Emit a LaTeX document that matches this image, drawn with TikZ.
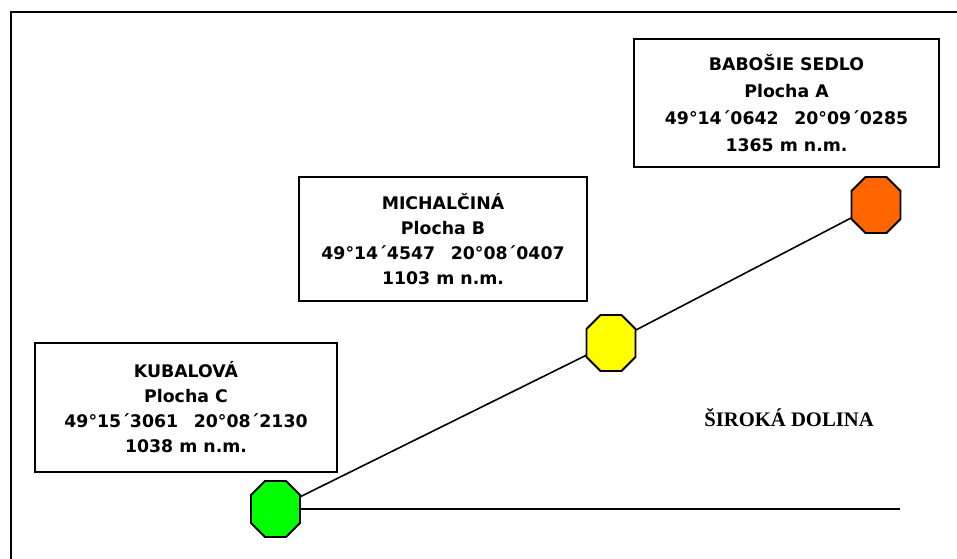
\documentclass[tikz,border=0pt]{standalone}
\usepackage{fontspec}
\setmainfont{DejaVu Sans}
\newfontfamily\timesfont{Liberation Serif}
\definecolor{octgreen}{HTML}{00FF00}
\definecolor{octyellow}{HTML}{FFFF00}
\definecolor{octorange}{HTML}{FF6600}
\begin{document}
\begin{tikzpicture}[x=0.75pt,y=-0.75pt,
  frame/.style={line width=1.6pt},
  infobox/.style={draw, line width=1.4pt, inner sep=0pt, align=center},
  boxfontA/.style={font=\bfseries\fontsize{13}{20.2}\selectfont},
  boxfontB/.style={font=\bfseries\fontsize{13}{18.75}\selectfont},
  link/.style={line width=1.2pt},
  octo/.style={draw, line width=1.4pt},
  pics/octagon/.style={code={\filldraw[octo, fill=#1] (-24.5,-14) -- (-24.5,14) -- (-10.5,28) -- (10.5,28) -- (24.5,14) -- (24.5,-14) -- (10.5,-28) -- (-10.5,-28) -- cycle;}}]
\useasboundingbox (0,0) rectangle (957,559);
\clip (0,0) rectangle (957,559);
\draw[frame] (11,12) rectangle (1000,620);

\node[infobox, boxfontA, minimum width=228.75pt, minimum height=96pt] (A) at (786.5,103)
  {BABOŠIE SEDLO\\Plocha A\\49°14´0642\hspace{0.9em}20°09´0285\\1365 m n.m.};
\node[infobox, boxfontB, minimum width=216pt, minimum height=93pt] (B) at (443,239)
  {MICHALČINÁ\\Plocha B\\49°14´4547\hspace{0.9em}20°08´0407\\1103 m n.m.};
\node[infobox, boxfontB, minimum width=226.5pt, minimum height=96.75pt] (C) at (186,407.5)
  {KUBALOVÁ\\Plocha C\\49°15´3061\hspace{0.9em}20°08´2130\\1038 m n.m.};

\coordinate (g) at (275.5,509);
\coordinate (y) at (611,343);
\coordinate (o) at (876,205);
\coordinate (e) at (900,509);
\draw[link] (g) -- (y) -- (o);
\draw[link] (g) -- (e);
\pic at (g) {octagon=octgreen};
\pic at (y) {octagon=octyellow};
\pic at (o) {octagon=octorange};

\node[font=\timesfont\bfseries\fontsize{15.5}{18}\selectfont, anchor=base, inner sep=0pt] (sd) at (789,427) {ŠIROKÁ DOLINA};
\end{tikzpicture}
\end{document}
